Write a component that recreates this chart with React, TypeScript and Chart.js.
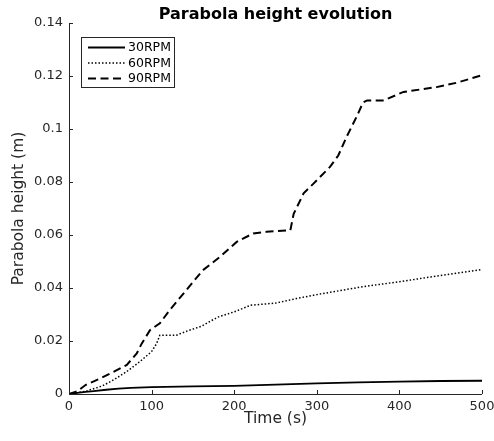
import React, { useEffect, useRef } from "react";
import { Chart, registerables } from "chart.js";

Chart.register(...registerables);

const chartTitle = "Parabola height evolution";
const xLabel = "Time (s)";
const yLabel = "Parabola height (m)";
const seriesNames = ["30RPM", "60RPM", "90RPM"];

const t30 = [0, 10, 20, 30, 45, 60, 75, 100, 150, 200, 250, 300, 350, 400, 450, 500];
const h30 = [0, 0.0004, 0.0008, 0.0011, 0.0016, 0.002, 0.0023, 0.0026, 0.0029, 0.0031, 0.0035, 0.004, 0.0044, 0.0047, 0.0049, 0.005];

const t60 = [0, 20, 40, 55, 70, 85, 100, 106, 110, 130, 145, 160, 180, 200, 220, 250, 275, 300, 350, 400, 450, 500];
const h60 = [0, 0.001, 0.003, 0.0055, 0.0085, 0.012, 0.016, 0.019, 0.0222, 0.0222, 0.024, 0.0255, 0.029, 0.031, 0.0335, 0.0343, 0.036, 0.0375, 0.0402, 0.0424, 0.0447, 0.047];

const t90 = [0, 10, 20, 40, 55, 70, 82, 88, 98, 110, 122, 142, 162, 183, 203, 223, 239, 268, 272, 284, 296, 316, 326, 336, 348, 356, 361, 381, 405, 445, 470, 500];
const h90 = [0, 0.001, 0.0034, 0.0062, 0.0085, 0.011, 0.0153, 0.019, 0.0241, 0.0267, 0.0317, 0.0392, 0.0467, 0.0518, 0.0574, 0.0606, 0.0612, 0.0618, 0.068, 0.0757, 0.0794, 0.0857, 0.09, 0.097, 0.1045, 0.11, 0.1108, 0.1108, 0.114, 0.1158, 0.1175, 0.1203];

const xTicks = [0, 100, 200, 300, 400, 500];
const yTicks = [0, 0.02, 0.04, 0.06, 0.08, 0.1, 0.12, 0.14];

const FONT = "'DejaVu Sans', sans-serif";
const AXIS = "#262626";

const styles = [
  { width: 1.8, dash: [] as number[] },
  { width: 1.5, dash: [1.5, 2] },
  { width: 2, dash: [8, 4.5] },
];

const toPoints = (xs: number[], ys: number[]) => xs.map((x, i) => ({ x, y: ys[i] }));

const decorPlugin = {
  id: "decor",
  afterDraw(chart: any) {
    const { ctx, chartArea, scales } = chart;
    const xs = scales.x;
    const ys = scales.y;
    ctx.save();
    ctx.strokeStyle = AXIS;
    ctx.lineWidth = 1;
    ctx.setLineDash([]);
    ctx.beginPath();
    ctx.moveTo(Math.round(chartArea.left) + 0.5, chartArea.top);
    ctx.lineTo(Math.round(chartArea.left) + 0.5, Math.round(chartArea.bottom) + 0.5);
    ctx.lineTo(chartArea.right, Math.round(chartArea.bottom) + 0.5);
    ctx.stroke();
    ctx.beginPath();
    xTicks.forEach((v) => {
      const px = Math.round(xs.getPixelForValue(v)) + 0.5;
      ctx.moveTo(px, chartArea.bottom);
      ctx.lineTo(px, chartArea.bottom - 4);
    });
    yTicks.forEach((v) => {
      const py = Math.round(ys.getPixelForValue(v)) + 0.5;
      ctx.moveTo(chartArea.left, py);
      ctx.lineTo(chartArea.left + 4, py);
    });
    ctx.stroke();
    ctx.fillStyle = "#000";
    ctx.font = `bold 16px ${FONT}`;
    ctx.textAlign = "center";
    ctx.textBaseline = "alphabetic";
    ctx.fillText(chartTitle, (chartArea.left + chartArea.right) / 2, 19);
    const bx = 81.5, by = 37.5, bw = 93, bh = 50;
    ctx.fillStyle = "#fff";
    ctx.fillRect(bx, by, bw, bh);
    ctx.strokeStyle = AXIS;
    ctx.lineWidth = 1;
    ctx.strokeRect(bx, by, bw, bh);
    ctx.font = `12.5px ${FONT}`;
    ctx.textAlign = "left";
    ctx.textBaseline = "middle";
    chart.data.datasets.forEach((ds: any, i: number) => {
      const cy = 47.5 + i * 15.5;
      ctx.strokeStyle = "#000";
      ctx.lineWidth = ds.borderWidth;
      ctx.setLineDash(ds.borderDash || []);
      ctx.beginPath();
      ctx.moveTo(88, cy);
      ctx.lineTo(125, cy);
      ctx.stroke();
      ctx.setLineDash([]);
      ctx.fillStyle = "#000";
      ctx.fillText(ds.label, 128, cy + 0.5);
    });
    ctx.restore();
  },
};

export default function App() {
  const ref = useRef<HTMLCanvasElement>(null);
  useEffect(() => {
    document.body.style.margin = "0";
    const canvas = ref.current;
    if (!canvas) return;
    const seriesData = [toPoints(t30, h30), toPoints(t60, h60), toPoints(t90, h90)];
    const chart = new Chart(canvas, {
      type: "line",
      data: {
        datasets: seriesData.map((d, i) => ({
          label: seriesNames[i],
          data: d,
          borderColor: "#000",
          backgroundColor: "#000",
          borderWidth: styles[i].width,
          borderDash: styles[i].dash,
          pointRadius: 0,
          tension: 0,
          fill: false,
        })),
      },
      options: {
        animation: false,
        responsive: false,
        devicePixelRatio: 1,
        layout: { padding: { top: 23, right: 12, left: 0, bottom: 0 } },
        plugins: { legend: { display: false }, title: { display: false }, tooltip: { enabled: false } },
        scales: {
          x: {
            type: "linear",
            min: 0,
            max: 500,
            afterBuildTicks: (s: any) => { s.ticks = xTicks.map((v) => ({ value: v })); },
            grid: { display: false, drawTicks: false },
            border: { display: false },
            ticks: { color: AXIS, padding: 5, maxRotation: 0, font: { family: FONT, size: 13 }, callback: (v: any) => String(v) },
            title: { display: true, text: xLabel, color: AXIS, font: { family: FONT, size: 15.5 }, padding: { top: 0, bottom: 13 } },
            afterFit: (s: any) => { s.height = 47; s.paddingLeft = 0; s.paddingRight = 0; },
          },
          y: {
            type: "linear",
            min: 0,
            max: 0.14,
            afterBuildTicks: (s: any) => { s.ticks = yTicks.map((v) => ({ value: v })); },
            grid: { display: false, drawTicks: false },
            border: { display: false },
            ticks: { color: AXIS, padding: 6, font: { family: FONT, size: 13 }, callback: (v: any) => String(Number(Number(v).toFixed(2))) },
            title: { display: true, text: yLabel, color: AXIS, font: { family: FONT, size: 15.5 }, padding: { top: 10, bottom: 0 } },
            afterFit: (s: any) => { s.width = 69; s.paddingTop = 0; s.paddingBottom = 0; },
          },
        },
      },
      plugins: [decorPlugin],
    });
    return () => chart.destroy();
  }, []);
  return (
    <div style={{ width: 494, height: 441 }}>
      <canvas ref={ref} width={494} height={441} style={{ display: "block" }} />
    </div>
  );
}
